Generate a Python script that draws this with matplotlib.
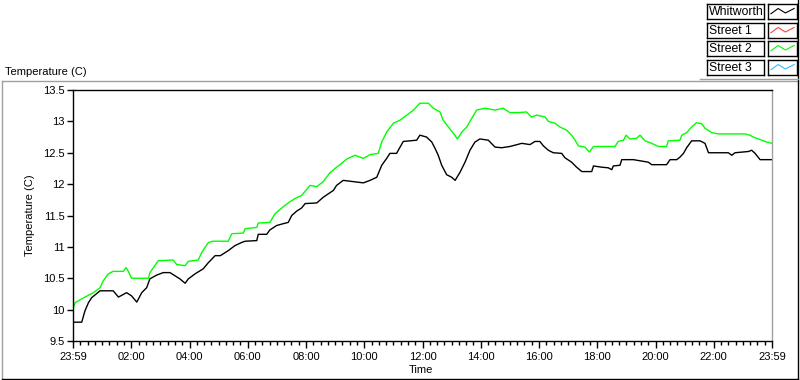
import numpy as np
import matplotlib
matplotlib.use('Agg')
import matplotlib.pyplot as plt
from matplotlib.lines import Line2D
from matplotlib.ticker import MultipleLocator, FixedLocator, FuncFormatter

plt.rcParams['font.family'] = ['Liberation Sans', 'DejaVu Sans']
plt.rcParams['font.size'] = 8

# hours since 23:59 of the previous day
whitworth_t = [0.0, 0.30, 0.41, 0.53, 0.64, 0.93, 1.38, 1.56, 1.84, 2.01, 2.19, 2.36, 2.53, 2.64,
               2.87, 3.10, 3.33, 3.50, 3.67, 3.85, 3.96, 4.19, 4.47, 4.65, 4.88, 5.06, 5.33, 5.56,
               5.79, 5.91, 6.31, 6.36, 6.65, 6.76, 6.99, 7.22, 7.39, 7.51, 7.68, 7.85, 7.97, 8.37,
               8.59, 8.94, 9.05, 9.28, 9.62, 9.97, 10.2, 10.43, 10.6, 10.77, 10.88, 11.11, 11.23,
               11.34, 11.8, 11.91, 12.14, 12.32, 12.43, 12.54, 12.66, 12.83, 13.0, 13.12, 13.29,
               13.46, 13.63, 13.8, 13.97, 14.26, 14.49, 14.72, 15.0, 15.17, 15.41, 15.69, 15.86,
               16.03, 16.15, 16.32, 16.49, 16.78, 16.89, 17.12, 17.29, 17.47, 17.81, 17.87, 18.15,
               18.38, 18.5, 18.55, 18.78, 18.84, 19.24, 19.75, 19.87, 20.38, 20.5, 20.73, 20.84,
               20.96, 21.07, 21.24, 21.53, 21.7, 21.82, 22.5, 22.62, 22.73, 23.19, 23.3, 23.42,
               23.59, 24.0]
whitworth_v = [9.8, 9.8, 9.98, 10.11, 10.19, 10.3, 10.3, 10.2, 10.27, 10.22, 10.12, 10.27, 10.35, 10.49,
               10.55, 10.59, 10.59, 10.54, 10.49, 10.42, 10.49, 10.57, 10.65, 10.75, 10.86, 10.86, 10.94, 11.02,
               11.07, 11.09, 11.1, 11.2, 11.2, 11.27, 11.34, 11.37, 11.39, 11.5, 11.57, 11.62, 11.69, 11.70,
               11.79, 11.9, 11.98, 12.06, 12.04, 12.02, 12.06, 12.11, 12.3, 12.41, 12.49, 12.49, 12.59,
               12.68, 12.70, 12.78, 12.75, 12.67, 12.57, 12.46, 12.3, 12.15, 12.11, 12.06, 12.19,
               12.35, 12.54, 12.67, 12.72, 12.70, 12.59, 12.58, 12.6, 12.62, 12.65, 12.63, 12.68,
               12.68, 12.61, 12.54, 12.5, 12.49, 12.42, 12.35, 12.27, 12.2, 12.2, 12.29, 12.27,
               12.26, 12.23, 12.29, 12.3, 12.39, 12.39, 12.35, 12.31, 12.31, 12.39, 12.39, 12.43,
               12.49, 12.58, 12.69, 12.69, 12.65, 12.5, 12.5, 12.46, 12.5, 12.52, 12.54, 12.49,
               12.39, 12.39]

street2_t = [0.0, 0.07, 0.41, 0.70, 0.93, 1.04, 1.21, 1.38, 1.73, 1.82, 1.90, 2.01, 2.59, 2.64, 2.93,
             3.44, 3.56, 3.85, 3.96, 4.30, 4.42, 4.53, 4.65, 4.8, 5.33, 5.45, 5.85, 5.91, 6.31, 6.36,
             6.76, 6.94, 7.17, 7.39, 7.62, 7.85, 8.14, 8.37, 8.59, 8.82, 9.05, 9.22, 9.4, 9.68, 9.97,
             10.2, 10.48, 10.6, 10.77, 11.0, 11.23, 11.46, 11.69, 11.91, 12.2, 12.37, 12.6, 12.71,
             12.89, 13.06, 13.2, 13.35, 13.52, 13.69, 13.86, 14.15, 14.49, 14.77, 15.0, 15.28, 15.57,
             15.74, 15.92, 16.21, 16.32, 16.55, 16.72, 16.95, 17.12, 17.24, 17.35, 17.58, 17.73,
             17.87, 18.61, 18.72, 18.9, 18.99, 19.12, 19.35, 19.47, 19.64, 19.87, 20.1, 20.38, 20.44,
             20.84, 20.9, 21.07, 21.24, 21.41, 21.59, 21.7, 21.93, 22.16, 23.07, 23.24, 23.36, 23.59,
             23.82, 24.0]
street2_v = [10.01, 10.11, 10.2, 10.27, 10.35, 10.46, 10.57, 10.61, 10.61, 10.67, 10.61, 10.5, 10.5, 10.59, 10.78,
             10.79, 10.72, 10.70, 10.77, 10.79, 10.91, 10.99, 11.07, 11.09, 11.09, 11.21, 11.22, 11.29, 11.31, 11.38,
             11.39, 11.53, 11.62, 11.70, 11.77, 11.82, 11.98, 11.96, 12.04, 12.18, 12.27, 12.33, 12.4, 12.46, 12.41,
             12.47, 12.49, 12.67, 12.83, 12.97, 13.02, 13.1, 13.18, 13.29, 13.29, 13.21, 13.15, 13.02,
             12.91, 12.81, 12.72, 12.83, 12.91, 13.05, 13.18, 13.21, 13.18, 13.21, 13.14, 13.14, 13.15,
             13.07, 13.1, 13.07, 13.0, 12.97, 12.91, 12.86, 12.78, 12.7, 12.61, 12.59, 12.51,
             12.6, 12.6, 12.68, 12.7, 12.78, 12.72, 12.73, 12.78, 12.69, 12.65, 12.6, 12.6, 12.69,
             12.70, 12.78, 12.82, 12.91, 12.98, 12.96, 12.89, 12.82, 12.8, 12.8, 12.78, 12.75, 12.71,
             12.67, 12.65]

# no data visible for these two
street1_t, street1_v = [], []
street3_t, street3_v = [], []

series_names = ['Whitworth', 'Street 1', 'Street 2', 'Street 3']
series_colors = ['#000000', '#ff4040', '#00ff00', '#33bbff']

tick_hours = [0, 2, 4, 6, 8, 10, 12, 14, 16, 18, 20, 22, 24]
tick_labels = ['23:59', '02:00', '04:00', '06:00', '08:00', '10:00', '12:00',
               '14:00', '16:00', '18:00', '20:00', '22:00', '23:59']

fig = plt.figure(figsize=(8.0, 3.8), dpi=100)
W, H = 800.0, 380.0

def fx(px):
    return px / W

def fy(py):
    return 1 - py / H

# outer panel frame
fig.add_artist(Line2D([fx(1.5), fx(797.5)], [fy(80.5), fy(80.5)], color='#a0a0a0', lw=1))
fig.add_artist(Line2D([fx(1.5), fx(1.5)], [fy(80.5), fy(378.5)], color='#a0a0a0', lw=1))
fig.add_artist(Line2D([fx(1.5), fx(798)], [fy(378.5), fy(378.5)], color='#000000', lw=1))
fig.add_artist(Line2D([fx(797.5), fx(797.5)], [fy(0), fy(378.5)], color='#000000', lw=1))
fig.add_artist(Line2D([fx(700), fx(797.5)], [fy(78.5), fy(78.5)], color='#a0a0a0', lw=1))

ax = fig.add_axes([fx(73), fy(341), fx(772) - fx(73), fy(90) - fy(341)])
all_series = [(whitworth_t, whitworth_v), (street1_t, street1_v),
              (street2_t, street2_v), (street3_t, street3_v)]
for (t, v), c in zip(all_series, series_colors):
    if len(t):
        ax.plot(t, v, color=c, lw=1.0)

ax.set_xlim(0, 24)
ax.set_ylim(9.5, 13.5)
ax.xaxis.set_major_locator(FixedLocator(tick_hours))
ax.set_xticklabels(tick_labels)
ax.xaxis.set_minor_locator(MultipleLocator(0.25))
ax.yaxis.set_major_locator(MultipleLocator(0.5))
ax.yaxis.set_major_formatter(FuncFormatter(lambda v, p: '%g' % v))
ax.tick_params(axis='x', which='major', length=5, width=1, direction='out', pad=3, labelsize=8)
ax.tick_params(axis='x', which='minor', length=3, width=1, direction='out')
ax.tick_params(axis='y', which='major', length=4, width=1, direction='out', pad=2, labelsize=8)
for s in ['left', 'bottom', 'top']:
    ax.spines[s].set_color('black')
ax.spines['right'].set_color('#a0a0a0')
for s in ax.spines.values():
    s.set_linewidth(1)

fig.text(fx(421), fy(370), 'Time', ha='center', va='center', fontsize=8)
fig.text(fx(30), fy(215), 'Temperature (C)', ha='center', va='center', rotation=90, fontsize=8)
fig.text(fx(5), fy(72), 'Temperature (C)', ha='left', va='center', fontsize=8)

# legend: label box + line sample box per row
row_tops = [4, 23, 41, 60]
for top, name, c in zip(row_tops, series_names, series_colors):
    lab = fig.add_axes([fx(707), fy(top + 15), fx(764) - fx(707), fy(top) - fy(top + 15)])
    lab.set_xticks([])
    lab.set_yticks([])
    lab.text(0.03, 0.45, name, transform=lab.transAxes, ha='left', va='center', fontsize=8.8)
    smp = fig.add_axes([fx(768), fy(top + 15), fx(797) - fx(768), fy(top) - fy(top + 15)])
    smp.set_xticks([])
    smp.set_yticks([])
    smp.plot([0.1, 0.35, 0.6, 0.9], [0.35, 0.7, 0.4, 0.7], color=c, lw=0.8)
    smp.set_xlim(0, 1)
    smp.set_ylim(0, 1)
    for a in (lab, smp):
        for s in a.spines.values():
            s.set_linewidth(1)

fig.savefig('out.png', dpi=100)
